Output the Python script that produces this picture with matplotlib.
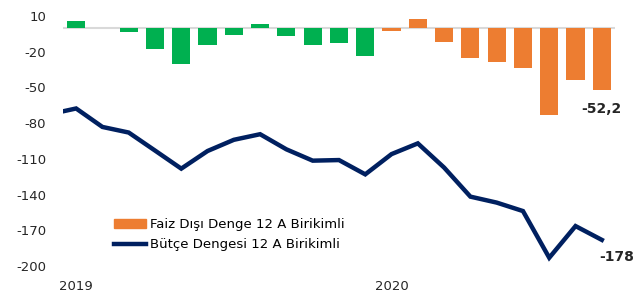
import matplotlib
matplotlib.use('Agg')
import matplotlib.pyplot as plt
from matplotlib.patches import Patch
from matplotlib.lines import Line2D

# --- DATA ---
# monthly, Jan 2019 .. Sep 2020
faiz_disi = [5.4, -0.5, -3.4, -18, -30.5, -14.3, -5.9, 3.4, -7, -14.3, -13.1, -24,
             -2.5, 7, -12, -25, -28.5, -34, -72.8, -44, -52.2]
# line starts one month earlier (Dec 2018), first point is clipped by the axis
butce = [-72.5, -67.7, -83.2, -87.9, -103, -118.2, -103.4, -94, -89.3, -102, -111.5,
         -111, -123, -106, -97, -117.3, -141.7, -146.7, -153.8, -193, -166.4, -178]
year_labels = ["2019", "2020"]
year_pos = [0, 12]
y_ticks = [10, -20, -50, -80, -110, -140, -170, -200]

GREEN = '#00B050'
ORANGE = '#ED7D31'
NAVY = '#002060'

plt.rcParams['font.family'] = ['DejaVu Sans']

fig = plt.figure(figsize=(6.33, 3.0), dpi=100)
ax = fig.add_axes([0.0995, 0.113, 0.872, 0.834])

x_bars = list(range(len(faiz_disi)))
colors = [GREEN if i < 12 else ORANGE for i in x_bars]
ax.bar(x_bars, faiz_disi, width=0.69, color=colors, zorder=2)
ax.axhline(0, color='#D9D9D9', lw=1.5, zorder=1)

x_line = list(range(-1, len(butce) - 1))
ax.plot(x_line, butce, color=NAVY, lw=3.2, zorder=3, solid_joinstyle='miter')

ax.set_xlim(-0.5, len(faiz_disi) - 0.5)
ax.set_ylim(-200, 10)
ax.set_yticks(y_ticks)
ax.set_yticklabels([str(v) for v in y_ticks])
ax.set_xticks(year_pos)
ax.set_xticklabels(year_labels)
ax.tick_params(axis='both', length=0, labelsize=9.5, colors='#262626')
ax.tick_params(axis='y', pad=12)
ax.tick_params(axis='x', pad=10)
for s in ax.spines.values():
    s.set_visible(False)

ax.text(20, -68.3, "-52,2", ha='center', va='center', fontsize=10,
        fontweight='bold', color='#262626')
ax.text(20.55, -192, "-178", ha='center', va='center', fontsize=10,
        fontweight='bold', color='#262626')

handles = [Patch(color=ORANGE), Line2D([0], [0], color=NAVY, lw=3.2)]
labels = ["Faiz Dışı Denge 12 A Birikimli", "Bütçe Dengesi 12 A Birikimli"]
fig.legend(handles, labels, loc='lower left', bbox_to_anchor=(0.17, 0.14),
           frameon=False, fontsize=9.5, handlelength=2.4, handletextpad=0.3,
           labelspacing=0.55, borderpad=0)

fig.savefig('out.png', dpi=100)
